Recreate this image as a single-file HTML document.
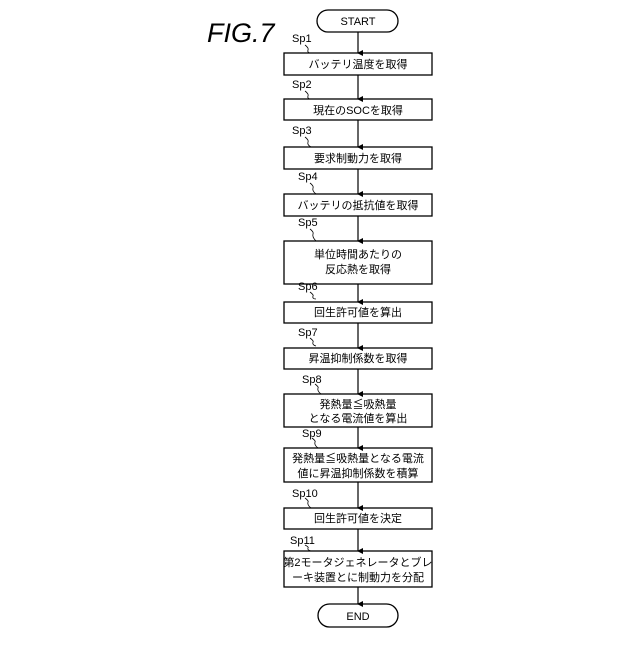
<!DOCTYPE html>
<html><head><meta charset="utf-8"><style>
body{margin:0;background:#fff}
text{font-family:"Liberation Sans","Noto Sans CJK JP",sans-serif;fill:#000}
</style></head><body>
<svg width="640" height="640" viewBox="0 0 640 640" xmlns="http://www.w3.org/2000/svg">
<defs><marker id="a" markerWidth="6" markerHeight="6" refX="3" refY="5" orient="auto" markerUnits="userSpaceOnUse"><path d="M0,0 L3,6 L6,0 Z" fill="#000"/></marker></defs>
<text x="207" y="42" font-size="27" font-style="italic">FIG.7</text>
<g stroke="#000" stroke-width="1.3" fill="none">
<rect x="317" y="10" width="81" height="22" rx="11"/>
<rect x="318" y="604" width="80" height="23" rx="11.5"/>
<rect x="284" y="53" width="148" height="22"/>
<rect x="284" y="99" width="148" height="21"/>
<rect x="284" y="147" width="148" height="22"/>
<rect x="284" y="194" width="148" height="22"/>
<rect x="284" y="241" width="148" height="43"/>
<rect x="284" y="302" width="148" height="21"/>
<rect x="284" y="348" width="148" height="21"/>
<rect x="284" y="394" width="148" height="33"/>
<rect x="284" y="448" width="148" height="34"/>
<rect x="284" y="508" width="148" height="21"/>
<rect x="284" y="551" width="148" height="36"/>
</g>
<g stroke="#000" stroke-width="1.2" marker-end="url(#a)">
<line x1="358" y1="32" x2="358" y2="53"/>
<line x1="358" y1="75" x2="358" y2="99"/>
<line x1="358" y1="120" x2="358" y2="147"/>
<line x1="358" y1="169" x2="358" y2="194"/>
<line x1="358" y1="216" x2="358" y2="241"/>
<line x1="358" y1="284" x2="358" y2="302"/>
<line x1="358" y1="323" x2="358" y2="348"/>
<line x1="358" y1="369" x2="358" y2="394"/>
<line x1="358" y1="427" x2="358" y2="448"/>
<line x1="358" y1="482" x2="358" y2="508"/>
<line x1="358" y1="529" x2="358" y2="551"/>
<line x1="358" y1="587" x2="358" y2="604"/>
</g>
<g stroke="#000" stroke-width="0.8" fill="none">
<path d="M305,45 q4,3 3,5 q-1,3 3,3"/>
<path d="M305,91 q4,3 3,5 q-1,3 3,3"/>
<path d="M305,137 q4,3 3,5 q-1,3 3,5"/>
<path d="M310,183 q4,3 3,5 q-1,3 3,6"/>
<path d="M310,229 q4,3 3,5 q-1,3 3,7"/>
<path d="M310,292 q4,3 3,4 q-1,3 3,3"/>
<path d="M310,338 q4,3 3,4 q-1,3 3,4"/>
<path d="M315,384 q4,3 3,4 q-1,3 3,6"/>
<path d="M312,438 q4,3 3,4 q-1,3 3,6"/>
<path d="M305,498 q4,3 3,4 q-1,3 3,6"/>
<path d="M305,545 q4,2 3,3 q-1,2 3,3"/>
</g>
<g font-size="11">
<text x="292" y="42">Sp1</text><text x="292" y="88">Sp2</text><text x="292" y="134">Sp3</text>
<text x="298" y="180">Sp4</text><text x="298" y="226">Sp5</text><text x="298" y="290">Sp6</text>
<text x="298" y="336">Sp7</text><text x="302" y="383">Sp8</text><text x="302" y="437">Sp9</text>
<text x="292" y="497">Sp10</text><text x="290" y="544">Sp11</text>
</g>
<g font-size="11" text-anchor="middle">
<text x="358" y="25">START</text>
<text x="358" y="620">END</text>
<text x="358" y="68">バッテリ温度を取得</text>
<text x="358" y="114">現在のSOCを取得</text>
<text x="358" y="162">要求制動力を取得</text>
<text x="358" y="209">バッテリの抵抗値を取得</text>
<text x="358" y="258">単位時間あたりの</text>
<text x="358" y="273">反応熱を取得</text>
<text x="358" y="316">回生許可値を算出</text>
<text x="358" y="362">昇温抑制係数を取得</text>
<text x="358" y="408">発熱量≦吸熱量</text>
<text x="358" y="422">となる電流値を算出</text>
<text x="358" y="462">発熱量≦吸熱量となる電流</text>
<text x="358" y="477">値に昇温抑制係数を積算</text>
<text x="358" y="522">回生許可値を決定</text>
<text x="358" y="566">第2モータジェネレータとブレ</text>
<text x="358" y="581">ーキ装置とに制動力を分配</text>
</g>
</svg>
</body></html>
